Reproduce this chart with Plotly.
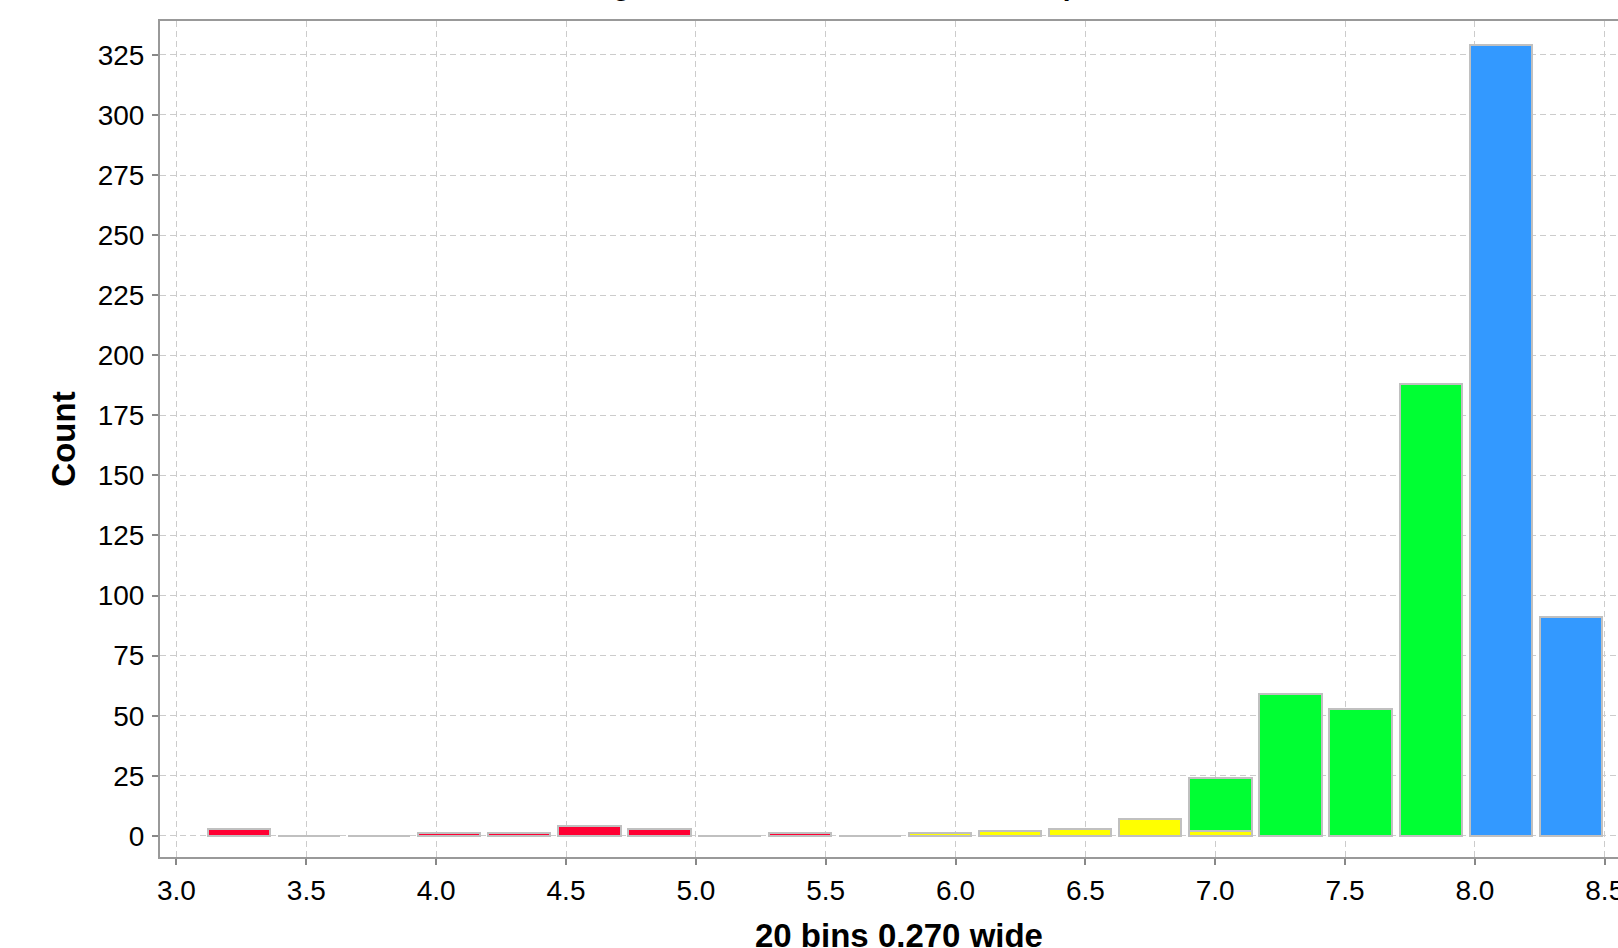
import plotly.graph_objects as go

# ---- data ----
bin_centers = [3.24, 3.51, 3.78, 4.05, 4.32, 4.59, 4.86, 5.13, 5.40, 5.67,
               5.94, 6.21, 6.48, 6.75, 7.02, 7.29, 7.56, 7.83, 8.10, 8.37]
red_counts = [3, 0, 0, 1, 1, 4, 3, 0, 1, 0, 0, 0, 0, 0, 0, 0, 0, 0, 0, 0]
yellow_counts = [0, 0, 0, 0, 0, 0, 0, 0, 0, 0, 1, 2, 3, 7, 2, 0, 0, 0, 0, 0]
green_counts = [0, 0, 0, 0, 0, 0, 0, 0, 0, 0, 0, 0, 0, 0, 22, 59, 53, 188, 0, 0]
blue_counts = [0, 0, 0, 0, 0, 0, 0, 0, 0, 0, 0, 0, 0, 0, 0, 0, 0, 0, 329, 91]
series_names = ["red", "yellow", "green", "blue"]
series_colors = ["#ff0033", "#ffff00", "#00ff33", "#3399ff"]
x_ticks = [3.0, 3.5, 4.0, 4.5, 5.0, 5.5, 6.0, 6.5, 7.0, 7.5, 8.0, 8.5]
y_ticks = [0, 25, 50, 75, 100, 125, 150, 175, 200, 225, 250, 275, 300, 325]
title_text = "Histogram of Measured Values for Sample"
x_title = "20 bins 0.270 wide"
y_title = "Count"

FONT = "Liberation Sans, Arial, Helvetica, sans-serif"

fig = go.Figure()
for name, vals, col in zip(series_names,
                           [red_counts, yellow_counts, green_counts, blue_counts],
                           series_colors):
    fig.add_trace(go.Bar(
        x=bin_centers, y=vals, name=name, width=0.24,
        marker=dict(color=col, line=dict(color="#c0c0c0", width=2)),
        hoverinfo="x+y+name",
    ))

W, H = 1618, 948
ml, mr, mt, mb = 160, 0, 21, 91

fig.update_layout(
    width=W, height=H,
    barmode="stack",
    showlegend=False,
    plot_bgcolor="white", paper_bgcolor="white",
    margin=dict(l=ml, r=mr, t=mt, b=mb, pad=0, autoexpand=False),
    font=dict(family=FONT, color="black"),
)
fig.update_xaxes(
    range=[2.9365, 8.551], automargin=False,
    tickvals=x_ticks, ticktext=[f"{v:.1f}" for v in x_ticks],
    tickfont=dict(size=28, family=FONT),
    ticks="outside", ticklen=6, tickwidth=2, tickcolor="#888888",
    ticklabelstandoff=1, ticklabeloverflow="allow",
    showline=True, linecolor="#999999", linewidth=2, mirror=True,
    showgrid=True, gridcolor="#cccccc", gridwidth=1, griddash="6px,4px",
    zeroline=False,
)
fig.update_yaxes(
    range=[-8.8, 339.1],
    tickvals=y_ticks, ticktext=[str(v) for v in y_ticks],
    tickfont=dict(size=28, family=FONT),
    ticks="outside", ticklen=6, tickwidth=2, tickcolor="#888888",
    ticklabelstandoff=2, ticklabeloverflow="allow",
    showline=True, linecolor="#999999", linewidth=2, mirror=True,
    showgrid=True, gridcolor="#cccccc", gridwidth=1, griddash="6px,4px",
    zeroline=False,
    title=dict(text=f"<b>{y_title}</b>", font=dict(size=33, family=FONT), standoff=12),
)

pw = W - ml - mr
ph = H - mt - mb
# x-axis title (annotation, positioned as in the reference)
fig.add_annotation(
    text=f"<b>{x_title}</b>", xref="paper", yref="paper",
    x=(899 - ml) / pw, y=(H - mb - 915) / ph,
    xanchor="center", yanchor="top", showarrow=False,
    font=dict(size=33, family=FONT, color="black"),
)
# main title (mostly above the visible page, as in the reference)
fig.add_annotation(
    text=f"<b>{title_text}</b>", xref="paper", yref="paper",
    x=(540.5 - ml) / pw, y=1 + (mt + 14) / ph,
    xanchor="left", yanchor="middle", showarrow=False,
    font=dict(size=28, family=FONT, color="black"),
)

fig.write_html("out.html", config={"displayModeBar": False},
               post_script="document.body.style.margin='0';document.body.style.overflow='hidden';")
